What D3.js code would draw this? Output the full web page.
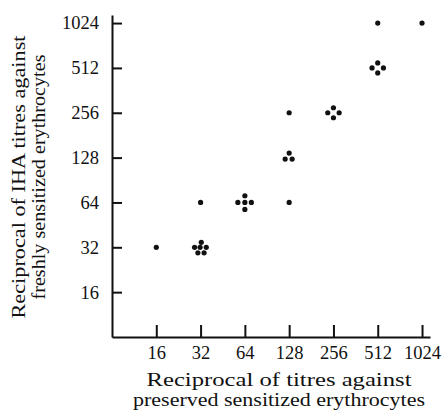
<!DOCTYPE html>
<html>
<head>
<meta charset="utf-8">
<script src="https://cdn.jsdelivr.net/npm/d3@7"></script>
<style>
  body { margin: 0; background: #fff; }
</style>
</head>
<body>
<div id="chart"></div>
<script>
var width = 445, height = 414;
var serif = "'Liberation Serif', 'Times New Roman', Times, 'DejaVu Serif', serif";

// titres (x: preserved cells, y: fresh cells) and how many sera gave each pair
var preservedTitre = [16, 32, 32, 64, 128, 128, 128, 256, 512, 512, 1024];
var freshTitre     = [32, 32, 64, 64, 64, 128, 256, 256, 512, 1024, 1024];
var nSera          = [1, 6, 1, 5, 1, 3, 1, 4, 4, 1, 1];

var tickValues = [16, 32, 64, 128, 256, 512, 1024];

var xTitle = ["Reciprocal of titres against", "preserved sensitized erythrocytes"];
var yTitle = ["Reciprocal of IHA titres against", "freshly sensitized erythrocytes"];

var svg = d3.select("#chart").append("svg")
    .attr("width", width)
    .attr("height", height)
    .attr("font-family", serif);

var x = d3.scaleLog().base(2).domain([8, 1160]).range([112, 430]);
var y = d3.scaleLog().base(2).domain([8, 1160]).range([337, 15]);

// pixel offsets used to spread coincident points into a small cluster
function clusterOffsets(n) {
  if (n === 3) return [[0, -4.5], [-4, 1.5], [3, 1.5]];
  if (n === 4) return [[0, -5], [-5.7, 0], [5.7, 0], [0, 5]];
  if (n === 5) return [[0, -6.7], [-7, 0], [0, 0], [6.5, 0], [0, 7]];
  if (n === 6) return [[0.7, -5], [-6, 0], [-0.5, 0], [5.7, 0], [-2.7, 5.5], [3.5, 5.5]];
  return [[0, 0]];
}

var dots = [];
preservedTitre.forEach(function(p, i) {
  clusterOffsets(nSera[i]).forEach(function(o) {
    dots.push({px: p, fy: freshTitre[i], dx: o[0], dy: o[1]});
  });
});

// y axis, ticks pointing inward
svg.append("g")
    .attr("transform", "translate(112,0)")
    .call(d3.axisLeft(y)
      .tickValues(tickValues)
      .tickFormat(d3.format("d"))
      .tickSizeInner(-10)
      .tickSizeOuter(0)
      .tickPadding(13));

// x axis, ticks pointing up
svg.append("g")
    .attr("transform", "translate(0,337)")
    .call(d3.axisBottom(x)
      .tickValues(tickValues)
      .tickFormat(d3.format("d"))
      .tickSizeInner(-12)
      .tickSizeOuter(0)
      .tickPadding(9));

svg.selectAll("g").attr("font-family", serif);
svg.selectAll(".domain").attr("stroke", "#111").attr("stroke-width", 2);
svg.selectAll(".tick line").attr("stroke", "#111").attr("stroke-width", 2);
svg.selectAll(".tick text")
    .attr("font-size", 18.5)
    .attr("font-family", serif)
    .attr("fill", "#111");

svg.append("g")
  .selectAll("circle")
  .data(dots)
  .enter().append("circle")
    .attr("cx", function(d) { return x(d.px) + d.dx; })
    .attr("cy", function(d) { return y(d.fy) + d.dy; })
    .attr("r", 2.6)
    .attr("fill", "#111");

// titles: the printed typeface is wider than Times, so stretch to the printed length
var xTitleLen = [265, 292];
var yTitleLen = [283, 245];

svg.append("g")
  .selectAll("text")
  .data(xTitle)
  .enter().append("text")
    .attr("x", 279)
    .attr("y", function(d, i) { return 386 + i * 20; })
    .attr("text-anchor", "middle")
    .attr("font-family", serif)
    .attr("font-size", 19)
    .attr("fill", "#111")
    .attr("textLength", function(d, i) { return xTitleLen[i]; })
    .attr("lengthAdjust", "spacingAndGlyphs")
    .text(function(d) { return d; });

svg.append("g")
  .selectAll("text")
  .data(yTitle)
  .enter().append("text")
    .attr("transform", function(d, i) { return "translate(" + (25 + i * 20) + ",177) rotate(-90)"; })
    .attr("text-anchor", "middle")
    .attr("font-family", serif)
    .attr("font-size", 19)
    .attr("fill", "#111")
    .attr("textLength", function(d, i) { return yTitleLen[i]; })
    .attr("lengthAdjust", "spacingAndGlyphs")
    .text(function(d) { return d; });
</script>
</body>
</html>
